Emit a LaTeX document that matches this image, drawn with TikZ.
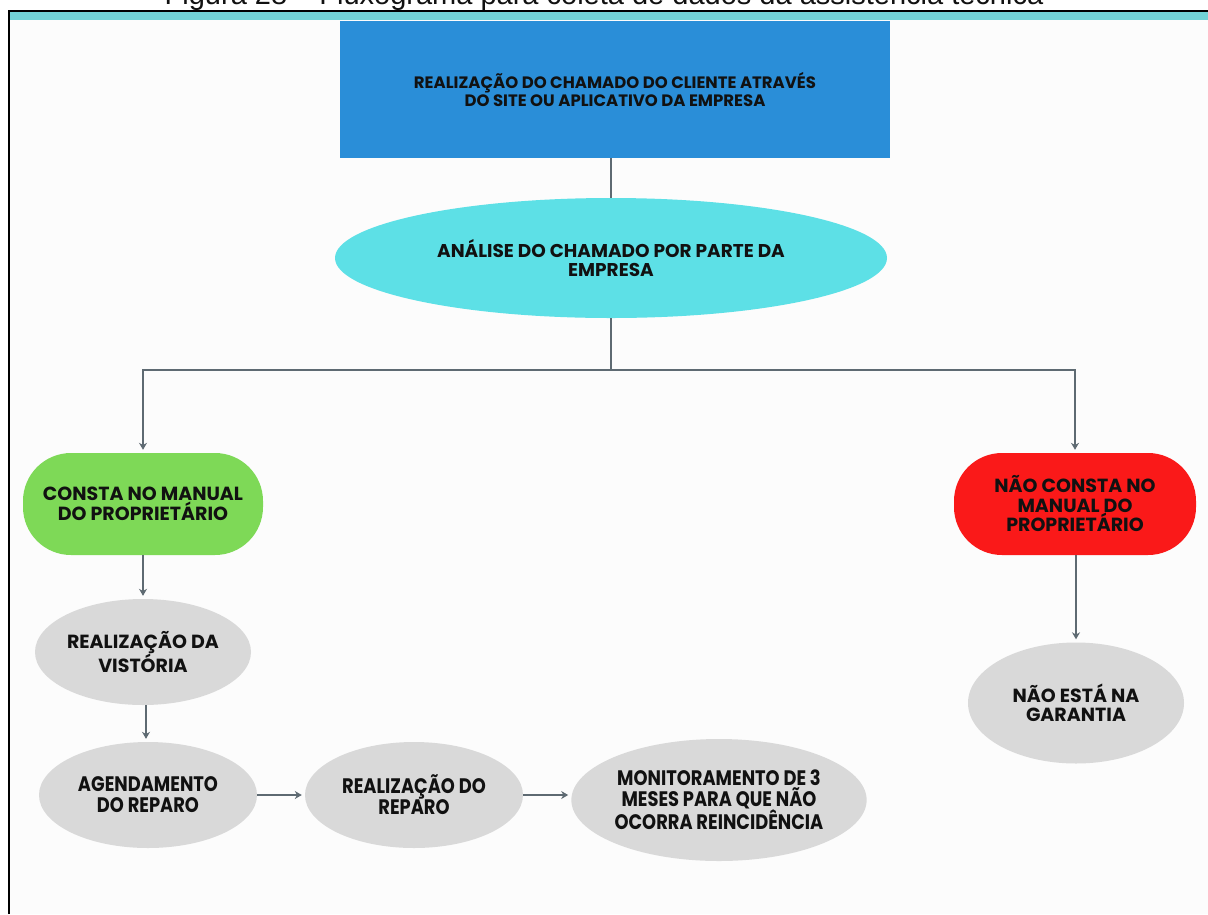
\documentclass[tikz,border=0pt]{standalone}
\usepackage{fontspec}
\setmainfont{Poppins}
\newfontfamily\capfont{Liberation Sans}
\newfontfamily\narrowfont[FakeStretch=0.85]{Poppins}
\usetikzlibrary{shapes.geometric,arrows.meta}

\definecolor{pagebg}{HTML}{FCFCFC}
\definecolor{bandteal}{HTML}{72D3D7}
\definecolor{boxblue}{HTML}{2A8ED8}
\definecolor{ovalcyan}{HTML}{5DE0E6}
\definecolor{pillgreen}{HTML}{7ED957}
\definecolor{pillred}{HTML}{FA1919}
\definecolor{cardgray}{HTML}{D9D9D9}
\definecolor{linegray}{HTML}{5E6A72}
\definecolor{textblack}{HTML}{111111}

\begin{document}
\begin{tikzpicture}[x=1pt,y=-1pt,
  line_style/.style={draw=linegray, line width=2pt},
  arrow_style/.style={line_style, -{Stealth[length=7pt, width=8pt]}, shorten >=3pt},
  every node/.style={text=textblack, align=center, font=\bfseries\fontsize{19}{19.5}\selectfont},
  box_style/.style={rectangle, fill=boxblue, minimum width=550pt, minimum height=137pt, font=\bfseries\fontsize{16.5}{18}\selectfont},
  oval_style/.style={ellipse, fill=ovalcyan, minimum width=552pt, minimum height=120pt, inner sep=0pt, font=\bfseries\fontsize{18.5}{19}\selectfont},
  pill_style/.style={rectangle, rounded corners=48pt, minimum width=240pt, minimum height=102pt},
  gray_style/.style={ellipse, fill=cardgray, inner sep=0pt, minimum width=216pt, minimum height=106pt},
  narrow_style/.style={gray_style, font=\narrowfont\bfseries\fontsize{21}{21}\selectfont}
]
\useasboundingbox (0,0) rectangle (1208,914);
\clip (0,0) rectangle (1208,914);

% Page and frame
\fill[white] (0,0) rectangle (1208,914);
\fill[pagebg] (9,12) rectangle (1208,914);
\fill[bandteal] (9,12) rectangle (1208,20);
\draw[black, line width=2.5pt] (9,914) -- (9,11) -- (1208,11);
\node[font=\capfont\fontsize{29}{29}\selectfont, anchor=base, inner sep=0pt] (caption) at (604,4)
  {Figura 28 – Fluxograma para coleta de dados da assistência técnica};

% Top of the flow
\node[box_style] (chamado) at (615,89) {REALIZAÇÃO DO CHAMADO DO CLIENTE ATRAVÉS\\DO SITE OU APLICATIVO DA EMPRESA};
\node[oval_style] (analise) at (611,258) {ANÁLISE DO CHAMADO POR PARTE DA\\EMPRESA};
\coordinate (split) at (611,370);

% Branches
\node[pill_style, fill=pillgreen] (consta) at (143,504) {CONSTA NO MANUAL\\DO PROPRIETÁRIO};
\node[pill_style, fill=pillred, minimum width=242pt] (naoconsta) at (1075,504) {NÃO CONSTA NO\\MANUAL DO\\PROPRIETÁRIO};

% Left column
\node[gray_style] (vistoria) at (143,652) {REALIZAÇÃO DA\\VISTÓRIA};
\node[narrow_style, minimum width=218pt] (agenda) at (148,795) {AGENDAMENTO\\DO REPARO};
\node[narrow_style, minimum width=218pt] (reparo) at (414,795) {REALIZAÇÃO DO\\REPARO};
\node[narrow_style, minimum width=292pt, minimum height=122pt] (monitor) at (719,800) {MONITORAMENTO DE 3\\MESES PARA QUE NÃO\\OCORRA REINCIDÊNCIA};

% Right column
\node[gray_style, minimum height=121pt] (garantia) at (1076,703) {NÃO ESTÁ NA\\GARANTIA};

% Connectors
\draw[line_style] (analise.north |- chamado.south) -- (analise);
\draw[line_style] (analise) -- (split);
\draw[arrow_style] (split) -| (consta);
\draw[arrow_style] (split) -| (naoconsta);
\draw[arrow_style] (consta) -- (vistoria);
\draw[arrow_style] (vistoria.south -| 146,0) -- (agenda.north -| 146,0);
\draw[arrow_style] (agenda) -- (reparo);
\draw[arrow_style] (reparo) -- (reparo -| monitor.west);
\draw[arrow_style] (naoconsta.south -| garantia) -- (garantia);
\end{tikzpicture}
\end{document}
